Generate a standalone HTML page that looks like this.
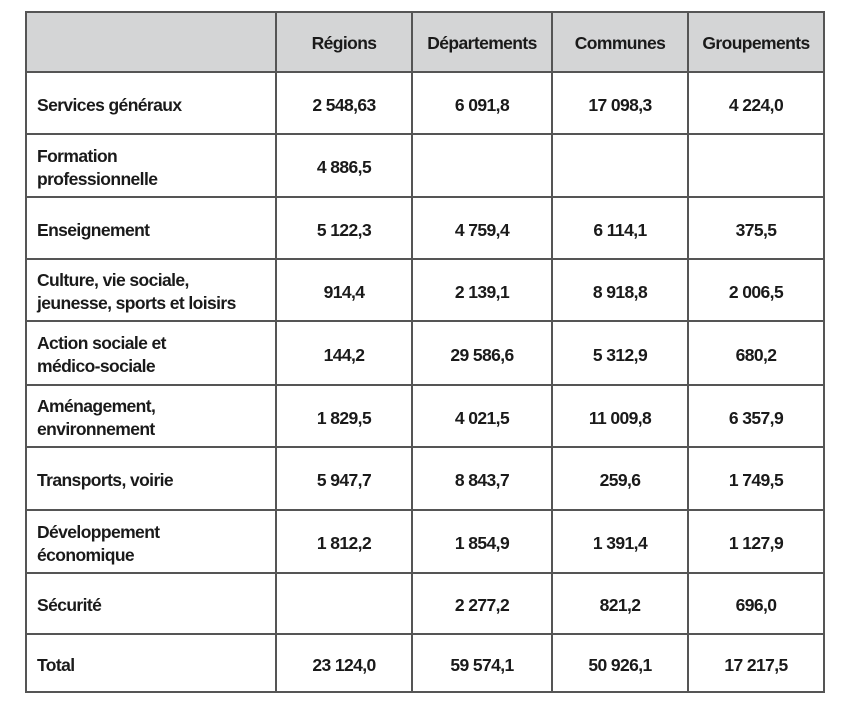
<!DOCTYPE html>
<html><head><meta charset="utf-8"><style>
body{margin:0;width:842px;height:716px;background:#fff;position:relative;overflow:hidden;font-family:"Liberation Sans",sans-serif;}
.h,.v{position:absolute;background:#555;}
.h{height:2px;left:25px;width:800px;}
.v{width:2px;top:11px;height:682px;}
.t{position:absolute;font-size:17.5px;font-weight:bold;color:#1a1a1a;line-height:23px;letter-spacing:-0.6px;}
.c{text-align:center;}
#hdr{position:absolute;left:25px;top:11px;width:800px;height:61px;background:#d4d5d6;}
</style></head><body>
<div id="hdr"></div>
<div class="h" style="top:11px"></div>
<div class="h" style="top:71px"></div>
<div class="h" style="top:133px"></div>
<div class="h" style="top:196px"></div>
<div class="h" style="top:258px"></div>
<div class="h" style="top:320px"></div>
<div class="h" style="top:384px"></div>
<div class="h" style="top:446px"></div>
<div class="h" style="top:509px"></div>
<div class="h" style="top:572px"></div>
<div class="h" style="top:633px"></div>
<div class="h" style="top:691px"></div>
<div class="v" style="left:25px"></div>
<div class="v" style="left:275px"></div>
<div class="v" style="left:411px"></div>
<div class="v" style="left:551px"></div>
<div class="v" style="left:687px"></div>
<div class="v" style="left:823px"></div>
<div id="cells"></div>
<script>
var cols=[276,412,552,688,824];
var rows=[[11,72,["","Régions","Départements","Communes","Groupements"]],
[72,134,["Services généraux","2 548,63","6 091,8","17 098,3","4 224,0"]],
[134,197,["Formation<br>professionnelle","4 886,5","","",""]],
[197,259,["Enseignement","5 122,3","4 759,4","6 114,1","375,5"]],
[259,321,["Culture, vie sociale,<br>jeunesse, sports et loisirs","914,4","2 139,1","8 918,8","2 006,5"]],
[321,385,["Action sociale et<br>médico-sociale","144,2","29 586,6","5 312,9","680,2"]],
[385,447,["Aménagement,<br>environnement","1 829,5","4 021,5","11 009,8","6 357,9"]],
[447,510,["Transports, voirie","5 947,7","8 843,7","259,6","1 749,5"]],
[510,573,["Développement<br>économique","1 812,2","1 854,9","1 391,4","1 127,9"]],
[573,634,["Sécurité","","2 277,2","821,2","696,0"]],
[634,692,["Total","23 124,0","59 574,1","50 926,1","17 217,5"]]];
var h="";
rows.forEach(function(r){
 r[2].forEach(function(txt,i){
  var lines=txt.split("<br>").length;
  var top=(r[0]+r[1])/2-lines*11.5+2;
  if(i==0){h+='<div class="t" style="left:37px;top:'+top+'px">'+txt+'</div>';}
  else{var l=cols[i-1],w=cols[i]-l;h+='<div class="t c" style="left:'+l+'px;width:'+w+'px;top:'+top+'px">'+txt+'</div>';}
 });
});
document.getElementById("cells").innerHTML=h;
</script>
</body></html>
